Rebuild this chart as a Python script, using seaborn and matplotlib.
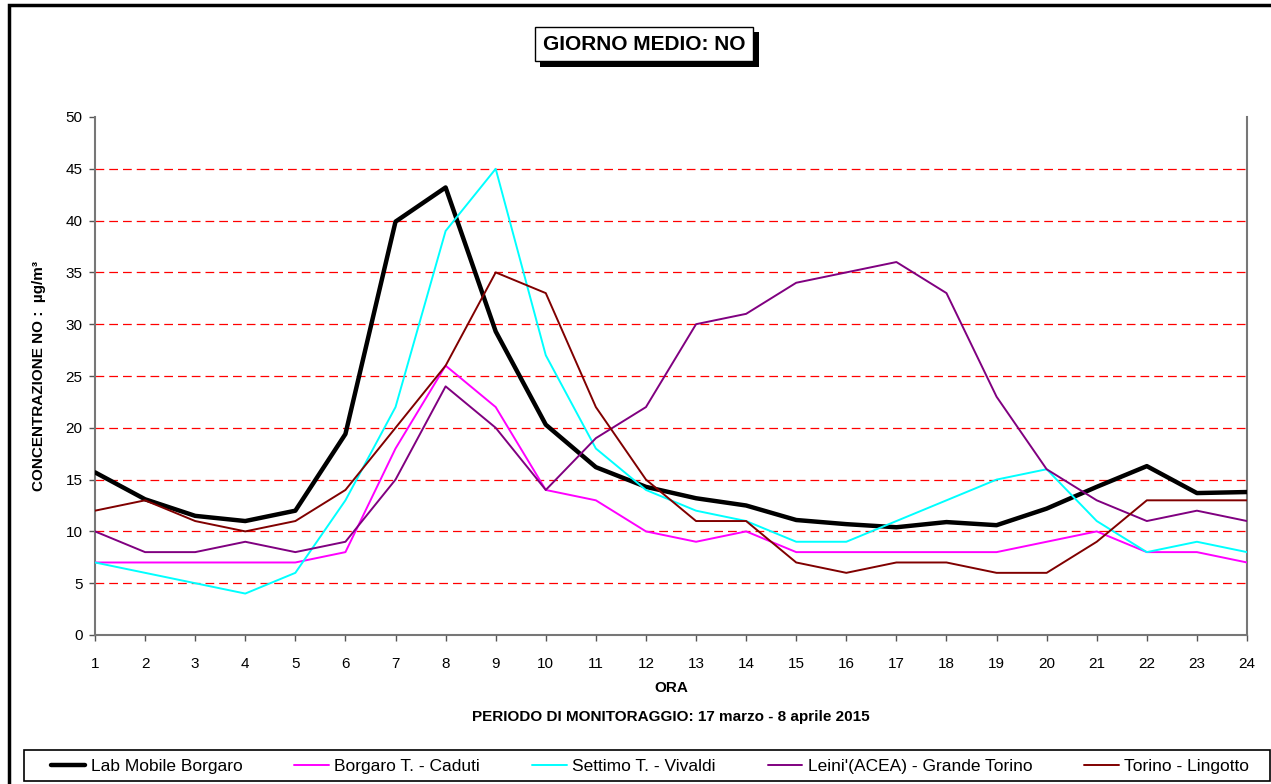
import pandas as pd
import matplotlib.pyplot as plt
import matplotlib.patheffects as pe
from matplotlib.patches import Rectangle
import seaborn as sns

# --- data ---
ore = list(range(1, 25))
lab_mobile = [15.7, 13.1, 11.5, 11.0, 12.0, 19.4, 39.9, 43.2, 29.3, 20.3, 16.2, 14.3,
              13.2, 12.5, 11.1, 10.7, 10.4, 10.9, 10.6, 12.2, 14.3, 16.3, 13.7, 13.8]
borgaro_caduti = [7, 7, 7, 7, 7, 8, 18, 26, 22, 14, 13, 10, 9, 10, 8, 8, 8, 8, 8, 9, 10, 8, 8, 7]
settimo_vivaldi = [7, 6, 5, 4, 6, 13, 22, 39, 45, 27, 18, 14, 12, 11, 9, 9, 11, 13, 15, 16, 11, 8, 9, 8]
leini_acea = [10, 8, 8, 9, 8, 9, 15, 24, 20, 14, 19, 22, 30, 31, 34, 35, 36, 33, 23, 16, 13, 11, 12, 11]
torino_lingotto = [12, 13, 11, 10, 11, 14, 20, 26, 35, 33, 22, 15, 11, 11, 7, 6, 7, 7, 6, 6, 9, 13, 13, 13]

series_names = ['Lab Mobile Borgaro', 'Borgaro T. - Caduti', 'Settimo T. - Vivaldi',
                "Leini'(ACEA) - Grande Torino", 'Torino - Lingotto']
series_values = [lab_mobile, borgaro_caduti, settimo_vivaldi, leini_acea, torino_lingotto]
series_colors = ['#000000', '#FF00FF', '#00FFFF', '#800080', '#800000']
series_widths = [3.2, 1.4, 1.4, 1.4, 1.4]

y_ticks = list(range(0, 55, 5))
grid_levels = list(range(5, 50, 5))

df = pd.DataFrame({
    'ORA': ore * len(series_names),
    'NO': sum(series_values, []),
    'Stazione': [n for n in series_names for _ in ore],
})

# --- style ---
sns.set_style('white')
plt.rcParams['font.family'] = ['Liberation Sans', 'DejaVu Sans']
plt.rcParams.update({'text.color': 'black', 'axes.labelcolor': 'black',
                     'xtick.color': 'black', 'ytick.color': 'black'})

W, H = 1271, 784
fig = plt.figure(figsize=(W / 100, H / 100), dpi=100)
ax = fig.add_axes([95 / W, 1 - 635 / H, (1247 - 95) / W, (635 - 117) / H])

# red dashed guide lines
ax.hlines(grid_levels, 1, 24, colors='#FF0000', linestyles=(0, (7, 4)), linewidth=0.9, zorder=1)

for name, color, lw in zip(series_names, series_colors, series_widths):
    sns.lineplot(data=df[df['Stazione'] == name], x='ORA', y='NO', color=color,
                 linewidth=lw, label=name, ax=ax, legend=False, zorder=3)

ax.set_xlim(1, 24)
ax.set_ylim(0, 50)
ax.set_xticks(ore)
ax.set_yticks(y_ticks)
ax.tick_params(axis='both', labelsize=11, length=4, width=1, color='#555555',
               direction='out', left=True, bottom=True)
ax.tick_params(axis='x', pad=12)
ax.tick_params(axis='y', pad=5)
for side in ['left', 'bottom', 'right']:
    ax.spines[side].set_color('#777777')
    ax.spines[side].set_linewidth(1.5)
ax.spines['top'].set_visible(False)

ax.set_xlabel('ORA', fontsize=11, fontweight='bold', labelpad=7)
ax.set_ylabel('CONCENTRAZIONE NO :  µg/m³', fontsize=11, fontweight='bold', labelpad=14)
fig.text(0.5 * (95 + 1247) / W, 1 - 717 / H,
         'PERIODO DI MONITORAGGIO: 17 marzo - 8 aprile 2015',
         ha='center', va='center', fontsize=11, fontweight='bold')

# title in a framed box with drop shadow
t = fig.text(644 / W, 1 - 44 / H, 'GIORNO MEDIO: NO', ha='center', va='center',
             fontsize=15, fontweight='bold',
             bbox=dict(boxstyle='square,pad=0.38', facecolor='white', edgecolor='black', linewidth=1))
t.get_bbox_patch().set_path_effects([
    pe.SimplePatchShadow(offset=(4, -4), shadow_rgbFace='black', alpha=1.0),
    pe.Normal()])

# outer chart frame (cropped on right and bottom)
fig.patches.append(Rectangle((9 / W, -0.1), 1.2, 1 - 5 / H + 0.1, transform=fig.transFigure,
                             fill=False, edgecolor='black', linewidth=2.5, zorder=0))

# legend box along the bottom
fig.patches.append(Rectangle((24 / W, 1 - 781 / H), (1270 - 24) / W, 31 / H,
                             transform=fig.transFigure, facecolor='white',
                             edgecolor='black', linewidth=1.2, zorder=1))
handles, labels = ax.get_legend_handles_labels()
leg = fig.legend(handles, labels, ncol=5, loc='center',
                 bbox_to_anchor=(650 / W, 1 - 766 / H),
                 fontsize=12.5, frameon=False, handlelength=2.0, handletextpad=0.3,
                 columnspacing=3.0, borderpad=0, borderaxespad=0)
leg.set_zorder(2)

fig.savefig('out.png', dpi=100)
